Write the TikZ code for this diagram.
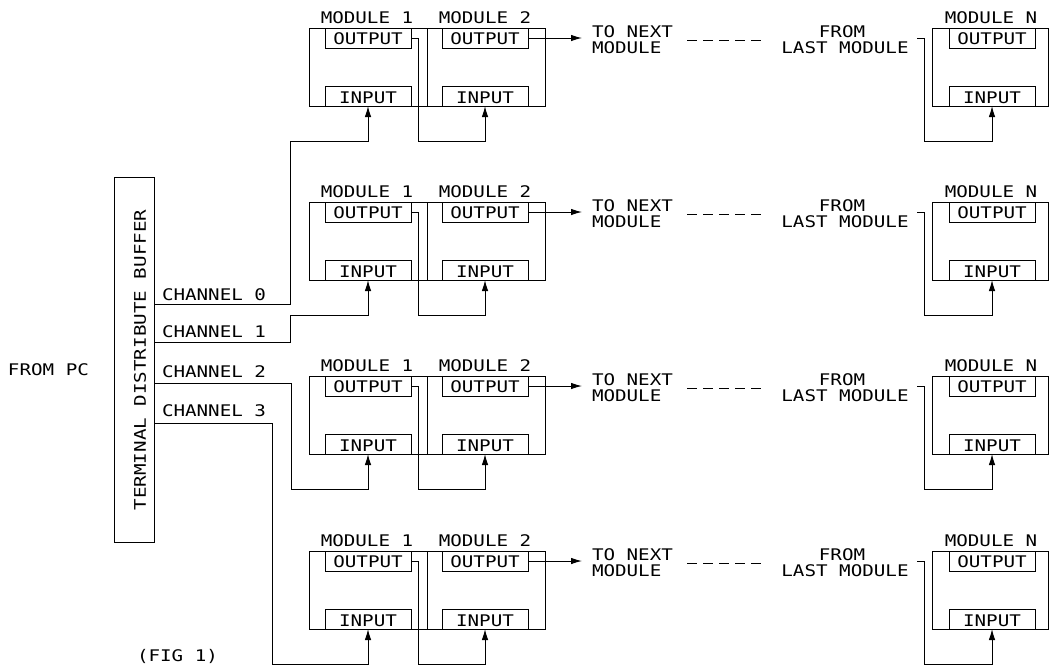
\documentclass[tikz,border=0pt]{standalone}
\usepackage{fontspec}
\setmainfont{DejaVu Sans Mono}[FakeStretch=1.2]
\usetikzlibrary{arrows.meta}
\begin{document}
\begin{tikzpicture}[x=1pt,y=-1pt,line width=1pt,
  every node/.style={font=\fontsize{16}{16.5}\selectfont, inner sep=0pt, outer sep=0pt},
  modbox/.style={draw, anchor=north west, minimum width=118pt, minimum height=78pt},
  nbox/.style={draw, anchor=north west, minimum width=116pt, minimum height=78pt},
  iobox/.style={draw, anchor=north west, minimum width=86pt, minimum height=20pt},
  lbl/.style={anchor=base},
  lblw/.style={anchor=base west},
  arr/.style={-{Latex[length=11pt,width=6.5pt]}},
  dashline/.style={dash pattern=on 10pt off 6pt}]
\useasboundingbox (0,0) rectangle (1052,665);

% buffer
\node[draw, anchor=north west, minimum width=40pt, minimum height=365pt] (buf) at (114,177) {};
\node[rotate=90] (buftxt) at (140,360) {TERMINAL DISTRIBUTE BUFFER};
\node[lblw] (frompc) at (8,375) {FROM PC};
\node[lblw] (fig) at (137,661) {(FIG 1)};

\foreach \r/\T in {1/28,2/202,3/376,4/551}{
  % modules
  \node[modbox] (ma\r) at (309,\T) {};
  \node[modbox] (mb\r) at (427,\T) {};
  \node[nbox] (mn\r) at (932,\T) {};
  \node[iobox] (oa\r) at (325,\T) {};
  \node[iobox] (ia\r) at (325,\T+58) {};
  \node[iobox] (ob\r) at (442,\T) {};
  \node[iobox] (ib\r) at (442,\T+58) {};
  \node[iobox] (on\r) at (949,\T) {};
  \node[iobox] (in\r) at (949,\T+58) {};
  % texts
  \node[lbl] (tla\r) at (367,\T-5) {MODULE 1};
  \node[lbl] (tlb\r) at (485,\T-5) {MODULE 2};
  \node[lbl] (tln\r) at (991,\T-5) {MODULE N};
  \node[lbl] (toa\r) at (368,\T+16) {OUTPUT};
  \node[lbl] (tob\r) at (485,\T+16) {OUTPUT};
  \node[lbl] (ton\r) at (992,\T+16) {OUTPUT};
  \node[lbl] (tia\r) at (368,\T+75) {INPUT};
  \node[lbl] (tib\r) at (485,\T+75) {INPUT};
  \node[lbl] (tin\r) at (992,\T+75) {INPUT};
  \node[lblw] (nx1\r) at (592,\T+9) {TO NEXT};
  \node[lblw] (nx2\r) at (592,\T+25) {MODULE};
  \node[lbl] (fr1\r) at (842,\T+9) {FROM};
  \node[lbl] (fr2\r) at (845,\T+25) {LAST MODULE};
  % connectors
  \coordinate (tip\r) at (582,\T+10);
  \draw[arr] (ob\r.east) -- (tip\r);
  \coordinate (d1\r) at (687,\T+12);
  \coordinate (d2\r) at (765,\T+12);
  \draw[dashline] (d1\r) -- (d2\r);
  \coordinate (br\r) at (917,\T+10);
  \draw[arr] (br\r) -- (924,\T+10) -- (924,\T+113) -- (in\r.south |- 0,\T+113) -- (in\r.south);
  \draw[arr] (oa\r.east) -- (418,\T+10) -- (418,\T+113) -- (ib\r.south |- 0,\T+113) -- (ib\r.south);
}

% channels
\node[lblw] (ch0) at (162,300) {CHANNEL 0};
\node[lblw] (ch1) at (162,337) {CHANNEL 1};
\node[lblw] (ch2) at (162,377) {CHANNEL 2};
\node[lblw] (ch3) at (162,416) {CHANNEL 3};
\draw[arr] (buf.east |- 0,304) -- (290,304) -- (290,141) -- (ia1.south |- 0,141) -- (ia1.south);
\draw[arr] (buf.east |- 0,342) -- (290,342) -- (290,315) -- (ia2.south |- 0,315) -- (ia2.south);
\draw[arr] (buf.east |- 0,383) -- (291,383) -- (291,489) -- (ia3.south |- 0,489) -- (ia3.south);
\draw[arr] (buf.east |- 0,423) -- (272,423) -- (272,664) -- (ia4.south |- 0,664) -- (ia4.south);
\end{tikzpicture}
\end{document}
